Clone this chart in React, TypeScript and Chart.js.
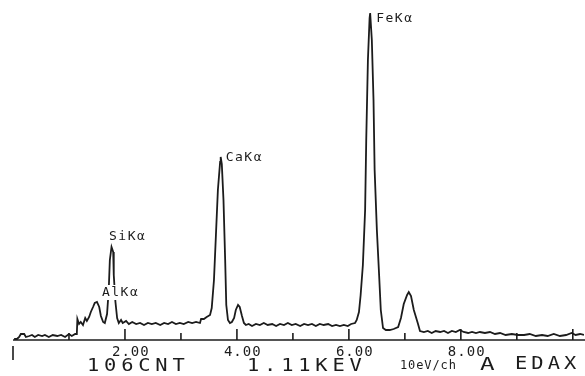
import React, { useEffect, useRef } from 'react';
import { Chart, registerables } from 'chart.js';

Chart.register(...registerables);

// Spectrum: energy (keV) and counts
const energyKeV = [
  0.02, 0.07, 0.11, 0.14, 0.2, 0.23, 0.29, 0.34, 0.39, 0.45, 0.52, 0.57, 0.64, 0.71, 0.79, 0.86, 0.93, 1.0, 1.05, 1.11,
  1.14, 1.15, 1.18, 1.21, 1.25, 1.29, 1.32, 1.36, 1.39, 1.43, 1.46, 1.5, 1.54, 1.57, 1.61, 1.64, 1.68, 1.71, 1.73, 1.76,
  1.79, 1.8, 1.83, 1.86, 1.89, 1.93, 1.96, 2.02, 2.07, 2.13, 2.2, 2.27, 2.34, 2.41, 2.48, 2.55, 2.63, 2.7, 2.77, 2.84,
  2.91, 2.98, 3.05, 3.13, 3.2, 3.27, 3.34, 3.36, 3.41, 3.46, 3.52, 3.55, 3.59, 3.625, 3.66, 3.7, 3.71, 3.73, 3.76, 3.79,
  3.81, 3.84, 3.875, 3.91, 3.95, 3.98, 4.02, 4.05, 4.09, 4.125, 4.16, 4.21, 4.27, 4.34, 4.41, 4.48, 4.55, 4.63, 4.7, 4.77,
  4.84, 4.91, 4.98, 5.05, 5.13, 5.2, 5.27, 5.34, 5.41, 5.48, 5.55, 5.63, 5.7, 5.77, 5.84, 5.91, 5.98, 6.04, 6.11, 6.14,
  6.18, 6.21, 6.25, 6.29, 6.31, 6.34, 6.37, 6.38, 6.41, 6.44, 6.46, 6.5, 6.54, 6.57, 6.61, 6.66, 6.73, 6.8, 6.88, 6.93,
  6.98, 7.04, 7.07, 7.11, 7.16, 7.23, 7.27, 7.34, 7.41, 7.48, 7.55, 7.63, 7.7, 7.77, 7.84, 7.91, 7.98, 8.05, 8.13, 8.2,
  8.27, 8.34, 8.43, 8.52, 8.61, 8.7, 8.8, 8.91, 9.02, 9.13, 9.23, 9.34, 9.45, 9.55, 9.66, 9.77, 9.88, 9.98, 10.05, 10.13,
  10.2,
];
const counts = [
  1, 1, 3, 6, 6, 3, 4, 5, 3, 5, 4, 5, 3, 5, 4, 5, 3, 6, 4, 6,
  6, 21, 16, 18, 15, 22, 19, 23, 28, 33, 37, 38, 33, 24, 18, 17, 26, 50, 80, 93,
  88, 65, 38, 22, 17, 20, 17, 19, 16, 18, 16, 17, 15, 17, 16, 17, 15, 17, 16, 18,
  16, 17, 16, 18, 17, 18, 17, 21, 21, 23, 25, 32, 60, 105, 150, 178, 183, 176, 140, 80,
  35, 20, 17, 18, 22, 30, 35, 33, 24, 17, 15, 16, 14, 16, 15, 17, 15, 16, 14, 16,
  15, 17, 15, 16, 14, 16, 15, 16, 14, 16, 15, 16, 14, 15, 14, 15, 14, 16, 17, 20,
  28, 45, 75, 130, 200, 280, 322, 327, 300, 240, 170, 110, 65, 30, 12, 10, 10, 11, 13, 22,
  36, 45, 48, 44, 30, 17, 9, 8, 9, 7, 9, 8, 9, 7, 9, 8, 10, 8, 7, 8,
  7, 8, 7, 8, 6, 7, 5, 6, 5, 5, 6, 4, 5, 4, 6, 4, 5, 7, 5, 6,
  5,
];

// Axis ticks
const tickValues = [1, 2, 3, 4, 5, 6, 7, 8, 9, 10];
const tickLabels = ['', '2.00', '', '4.00', '', '6.00', '', '8.00', '', ''];

// Peak annotations
const peakNames = ['AlKα', 'SiKα', 'CaKα', 'FeKα'];
const peakEnergy = [1.5, 1.76, 3.71, 6.38];
const peakCounts = [38, 93, 183, 327];

// Footer texts
const footerCounts = '106CNT';
const footerEnergy = '1.11KEV';
const footerScale = '10eV/ch';
const footerMode = 'A';
const footerBrand = 'EDAX';

const INK = '#1c1c1c';

function drawText(
  ctx: CanvasRenderingContext2D,
  text: string,
  x: number,
  y: number,
  size: number,
  scaleX: number,
  spacing: number
) {
  ctx.save();
  ctx.translate(x, y);
  ctx.scale(scaleX, 1);
  ctx.font = `${size}px "DejaVu Sans Mono", monospace`;
  (ctx as any).letterSpacing = `${spacing}px`;
  ctx.textAlign = 'left';
  ctx.textBaseline = 'middle';
  ctx.fillStyle = INK;
  ctx.fillText(text, 0, 0);
  ctx.restore();
}

const decorPlugin = {
  id: 'edaxDecor',
  afterDatasetsDraw(chart: any) {
    const ctx: CanvasRenderingContext2D = chart.ctx;
    const xs = chart.scales.x;
    const ys = chart.scales.y;
    const y0 = ys.getPixelForValue(0);
    const x0 = xs.getPixelForValue(0);

    ctx.save();
    ctx.strokeStyle = INK;
    ctx.lineWidth = 1.6;
    // baseline
    ctx.beginPath();
    ctx.moveTo(x0, y0);
    ctx.lineTo(chart.width, y0);
    ctx.stroke();
    // ticks
    tickValues.forEach((v, i) => {
      const px = xs.getPixelForValue(v);
      const len = v % 2 === 0 ? 11 : 7;
      ctx.beginPath();
      ctx.moveTo(px, y0);
      ctx.lineTo(px, y0 - len);
      ctx.stroke();
      if (tickLabels[i]) {
        drawText(ctx, tickLabels[i], px - 13, y0 + 12, 14, 1, 1);
      }
    });
    // left cursor marker
    ctx.beginPath();
    ctx.moveTo(x0, y0 + 6);
    ctx.lineTo(x0, y0 + 20);
    ctx.stroke();
    ctx.restore();

    // peak labels
    const offs = [
      [5, -9],
      [-2.5, -10],
      [5, 1],
      [6, 6],
    ];
    peakNames.forEach((name, i) => {
      const px = xs.getPixelForValue(peakEnergy[i]);
      const py = ys.getPixelForValue(peakCounts[i]);
      const lx = px + offs[i][0];
      const ly = py + offs[i][1];
      if (i === 0) {
        ctx.save();
        ctx.fillStyle = '#ffffff';
        ctx.fillRect(lx - 1, ly - 8, 38, 15);
        ctx.restore();
      }
      drawText(ctx, name, lx, ly, 13, 1, 1.5);
    });

    // footer line
    drawText(ctx, footerCounts, 87, 367, 17, 1.2, 4);
    drawText(ctx, footerEnergy, 247, 367, 17, 1.2, 4);
    drawText(ctx, footerScale, 400, 366, 12, 1, 0.9);
    drawText(ctx, footerMode, 480, 365, 18, 1.35, 0);
    drawText(ctx, footerBrand, 515, 365, 17, 1.2, 3.4);
  },
};

export default function App() {
  const canvasRef = useRef<HTMLCanvasElement | null>(null);

  useEffect(() => {
    if (!canvasRef.current) return;
    const points = energyKeV.map((e, i) => ({ x: e, y: counts[i] }));
    const chart = new Chart(canvasRef.current, {
      type: 'line',
      data: {
        datasets: [
          {
            data: points,
            borderColor: INK,
            borderWidth: 1.8,
            pointRadius: 0,
            tension: 0,
            fill: false,
          },
        ],
      },
      options: {
        animation: false,
        responsive: false,
        devicePixelRatio: 1,
        layout: { padding: { left: 13, right: 1, top: 5, bottom: 36 } },
        plugins: {
          legend: { display: false },
          tooltip: { enabled: false },
          title: { display: false },
        },
        scales: {
          x: { type: 'linear', min: 0, max: 10.2, display: false },
          y: { min: 0, max: 335, display: false },
        },
      },
      plugins: [decorPlugin],
    });
    return () => chart.destroy();
  }, []);

  return (
    <div
      style={{
        position: 'fixed',
        left: 0,
        top: 0,
        width: 585,
        height: 376,
        background: '#ffffff',
      }}
    >
      <canvas ref={canvasRef} width={585} height={376} style={{ width: 585, height: 376, display: 'block' }} />
    </div>
  );
}
